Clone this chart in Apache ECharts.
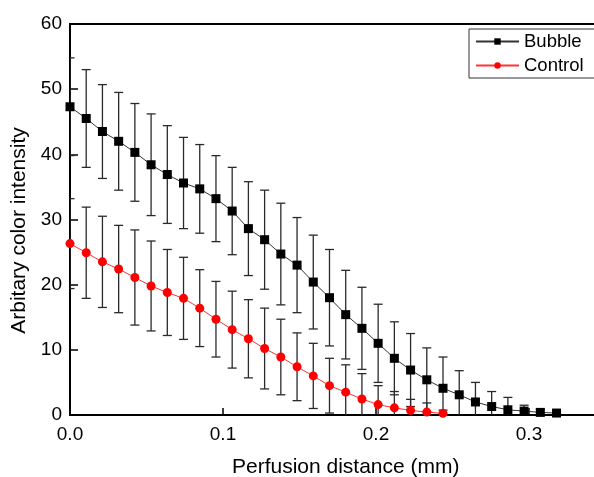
<!DOCTYPE html>
<html>
<head>
<meta charset="utf-8">
<script src="https://cdn.jsdelivr.net/npm/echarts@6/dist/echarts.min.js"></script>
<style>
html,body{margin:0;padding:0;background:#fff;}
#chart{width:594px;height:477px;}
</style>
</head>
<body>
<div id="chart"></div>
<script>
var distance = [0.0000, 0.0106, 0.0212, 0.0318, 0.0424, 0.0530, 0.0636, 0.0742, 0.0848, 0.0954,
  0.1060, 0.1166, 0.1272, 0.1378, 0.1484, 0.1590, 0.1696, 0.1802, 0.1908, 0.2014,
  0.2120, 0.2226, 0.2332, 0.2438, 0.2544, 0.2650, 0.2756, 0.2862, 0.2968, 0.3074, 0.3180];
var bubbleMean = [47.3, 45.5, 43.5, 42.0, 40.3, 38.4, 36.9, 35.6, 34.7, 33.2,
  31.3, 28.6, 26.9, 24.7, 23.0, 20.4, 18.0, 15.4, 13.3, 11.0,
  8.7, 6.9, 5.4, 4.1, 3.1, 2.0, 1.3, 0.8, 0.6, 0.4, 0.3];
var bubbleErr = [7.5, 7.5, 7.2, 7.5, 7.5, 7.8, 7.5, 7.0, 6.8, 6.6,
  6.7, 7.2, 7.6, 7.8, 7.3, 7.2, 7.4, 6.8, 6.3, 6.0,
  5.6, 5.6, 4.9, 4.8, 3.7, 3.0, 2.3, 1.9, 0.9, 0.5, 0.0];
var controlMean = [26.3, 24.9, 23.5, 22.4, 21.1, 19.8, 18.8, 17.9, 16.4, 14.7,
  13.1, 11.7, 10.2, 8.9, 7.4, 6.0, 4.5, 3.5, 2.45, 1.6,
  1.1, 0.7, 0.45, 0.25];
var controlErr = [6.9, 7.0, 7.0, 6.7, 7.3, 6.9, 6.6, 6.3, 5.9, 5.8,
  5.9, 6.0, 6.2, 5.8, 5.2, 5.0, 4.2, 4.2, 3.9, 2.9,
  2.5, 1.7, 1.4, 0.5];
var xTicks = [0, 0.1, 0.2, 0.3];
var yTicks = [0, 10, 20, 30, 40, 50, 60];

function pairs(xs, ys) { return ys.map(function (v, i) { return [xs[i], v]; }); }
function errData(xs, m, e) { return m.map(function (v, i) { return [xs[i], v, e[i]]; }); }

function renderErr(params, api) {
  var x = api.value(0), m = api.value(1), e = api.value(2);
  if (e <= 0) return null;
  var hi = m + e, lo = m - e;
  var lowCap = true;
  if (lo < 0) { lo = 0; lowCap = false; }
  var pHi = api.coord([x, hi]);
  var pLo = api.coord([x, lo]);
  var w = 4.5;
  var style = { stroke: '#2a2a2a', lineWidth: 1.3, fill: null };
  var children = [
    { type: 'line', shape: { x1: pHi[0], y1: pHi[1], x2: pLo[0], y2: pLo[1] }, style: style },
    { type: 'line', shape: { x1: pHi[0] - w, y1: pHi[1], x2: pHi[0] + w, y2: pHi[1] }, style: style }
  ];
  if (lowCap) children.push({ type: 'line', shape: { x1: pLo[0] - w, y1: pLo[1], x2: pLo[0] + w, y2: pLo[1] }, style: style });
  return { type: 'group', children: children };
}

var chart = echarts.init(document.getElementById('chart'), null, { renderer: 'canvas' });
var font = 'Liberation Sans, Arial, sans-serif';
chart.setOption({
  animation: false,
  backgroundColor: '#fff',
  textStyle: { fontFamily: font, color: '#000' },
  grid: { left: 70, top: 24, right: -11.5, bottom: 62, show: true, borderColor: '#000', borderWidth: 2,
    backgroundColor: 'transparent', containLabel: false, outerBoundsMode: 'none' },
  legend: {
    orient: 'vertical', left: 469, top: 29,
    itemWidth: 43, itemHeight: 8, itemGap: 5,
    padding: [3, 30, 3, 6],
    borderColor: '#333', borderWidth: 1,
    textStyle: { fontFamily: font, fontSize: 18.5, color: '#000' },
    data: ['Bubble', 'Control']
  },
  xAxis: {
    type: 'value', min: 0, max: 0.35, interval: 0.1,
    name: 'Perfusion distance (mm)', nameLocation: 'middle', nameGap: 42,
    nameTextStyle: { fontFamily: font, fontSize: 21, color: '#000', padding: [0, 0, 0, 16] },
    axisLine: { lineStyle: { color: '#000', width: 2 } },
    axisTick: { inside: true, length: 7, lineStyle: { color: '#000', width: 1.5 } },
    axisLabel: { fontFamily: font, fontSize: 19, color: '#000', margin: 10, showMaxLabel: false,
      formatter: function (v) { return xTicks.indexOf(Math.round(v * 10) / 10) >= 0 ? v.toFixed(1) : ''; } },
    splitLine: { show: false }
  },
  yAxis: {
    type: 'value', min: 0, max: 60, interval: 10,
    name: 'Arbitary color intensity', nameLocation: 'middle', nameGap: 40.5,
    nameTextStyle: { fontFamily: font, fontSize: 21, color: '#000', padding: [0, 22, 0, 0] },
    axisLine: { lineStyle: { color: '#000', width: 2 } },
    axisTick: { inside: true, length: 8, lineStyle: { color: '#000', width: 1.5 } },
    axisLabel: { fontFamily: font, fontSize: 19, color: '#000', margin: 8,
      formatter: function (v) { return yTicks.indexOf(v) >= 0 ? String(v) : ''; } },
    splitLine: { show: false }
  },
  series: [
    { type: 'custom', name: 'errB', renderItem: renderErr, data: errData(distance, bubbleMean, bubbleErr), z: 1, clip: true, silent: true },
    { type: 'custom', name: 'errC', renderItem: renderErr, data: errData(distance, controlMean, controlErr), z: 1, clip: true, silent: true },
    { type: 'line', name: 'Bubble', data: pairs(distance, bubbleMean), symbol: 'rect', symbolSize: 9,
      itemStyle: { color: '#000' }, lineStyle: { color: '#333', width: 1 }, z: 3 },
    { type: 'line', name: 'Control', data: pairs(distance, controlMean), symbol: 'circle', symbolSize: 9,
      itemStyle: { color: '#ff0000' }, lineStyle: { color: '#ff3333', width: 1 }, z: 4 }
  ]
});
</script>
</body>
</html>
